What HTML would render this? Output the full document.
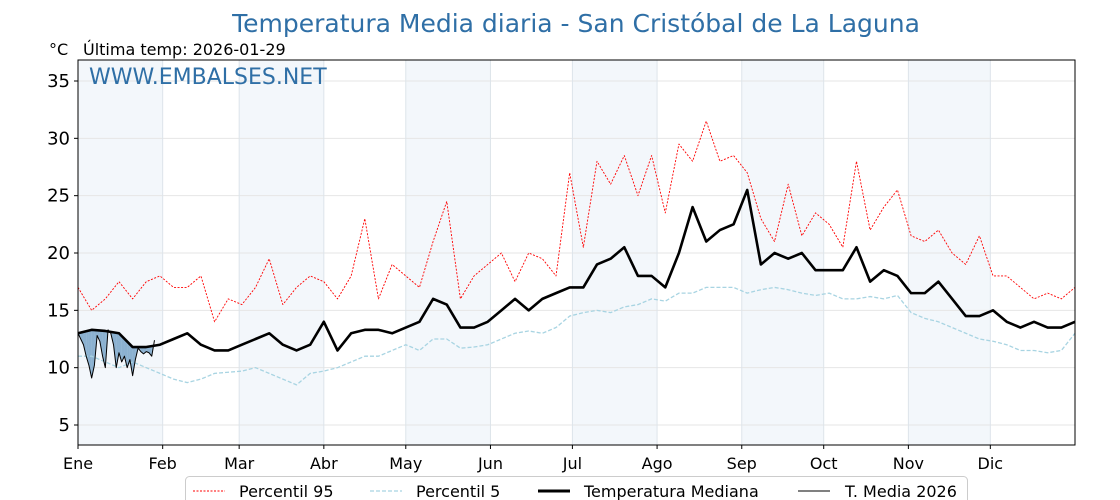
<!DOCTYPE html>
<html><head><meta charset="utf-8"><style>
body{margin:0;background:#fff;}
svg{display:block;font-family:"DejaVu Sans","Liberation Sans",sans-serif;}
</style></head><body>
<svg id="chart" width="1120" height="500" viewBox="0 0 1120 500" xmlns="http://www.w3.org/2000/svg">
<text x="576" y="32" text-anchor="middle" font-size="25" fill="#2f6fa6">Temperatura Media diaria - San Cristóbal de La Laguna</text>
<text x="49" y="55" font-size="16" fill="#000">°C</text>
<text x="83" y="55" font-size="16" fill="#000">Última temp: 2026-01-29</text>
<g id="shade"></g><g id="grid"></g><g id="series"></g><g id="axes"></g>
<text x="89" y="84" font-size="22" fill="#2f6fa6">WWW.EMBALSES.NET</text>
<g id="legend">
<rect x="185.5" y="476.5" width="782" height="30" rx="4" fill="#fff" stroke="#ccc"/>
<line x1="193" y1="491" x2="225" y2="491" stroke="red" stroke-width="1" stroke-dasharray="2,1.5"/>
<text x="239" y="497" font-size="16">Percentil 95</text>
<line x1="370" y1="491" x2="402" y2="491" stroke="#a8d4e2" stroke-width="1.2" stroke-dasharray="4,2"/>
<text x="416" y="497" font-size="16">Percentil 5</text>
<line x1="538" y1="491" x2="570" y2="491" stroke="#000" stroke-width="3"/>
<text x="584" y="497" font-size="16">Temperatura Mediana</text>
<line x1="798" y1="491" x2="830" y2="491" stroke="#000" stroke-width="1"/>
<text x="845" y="497" font-size="16">T. Media 2026</text>
</g>
</svg>
<script>
const sampleDays=[0,5,10,15,20,25,30,35,40,45,50,55,60,65,70,75,80,85,90,95,100,105,110,115,120,125,130,135,140,145,150,155,160,165,170,175,180,185,190,195,200,205,210,215,220,225,230,235,240,245,250,255,260,265,270,275,280,285,290,295,300,305,310,315,320,325,330,335,340,345,350,355,360,365];
const p95=[17,15,16,17.5,16,17.5,18,17,17,18,14,16,15.5,17,19.5,15.5,17,18,17.5,16,18,23,16,19,18,17,21,24.5,16,18,19,20,17.5,20,19.5,18,27,20.5,28,26,28.5,25,28.5,23.5,29.5,28,31.5,28,28.5,27,23,21,26,21.5,23.5,22.5,20.5,28,22,24,25.5,21.5,21,22,20,19,21.5,18,18,17,16,16.5,16,17];
const p5=[11,11,10.5,10,10.5,10,9.5,9,8.7,9,9.5,9.6,9.7,10,9.5,9,8.5,9.5,9.7,10,10.5,11,11,11.5,12,11.5,12.5,12.5,11.7,11.8,12,12.5,13,13.2,13,13.5,14.5,14.8,15,14.8,15.3,15.5,16,15.8,16.5,16.5,17,17,17,16.5,16.8,17,16.8,16.5,16.3,16.5,16,16,16.2,16,16.3,14.8,14.3,14,13.5,13,12.5,12.3,12,11.5,11.5,11.3,11.5,13];
const median=[13,13.3,13.2,13,11.8,11.8,12,12.5,13,12,11.5,11.5,12,12.5,13,12,11.5,12,14,11.5,13,13.3,13.3,13,13.5,14,16,15.5,13.5,13.5,14,15,16,15,16,16.5,17,17,19,19.5,20.5,18,18,17,20,24,21,22,22.5,25.5,19,20,19.5,20,18.5,18.5,18.5,20.5,17.5,18.5,18,16.5,16.5,17.5,16,14.5,14.5,15,14,13.5,14,13.5,13.5,14];
const t2026=[13,12.5,12,11,10.2,9.1,10.2,12.8,12.3,11,10,13.3,13,12,10,11.3,10.5,11,10,10.7,9.3,10.7,11.7,11.4,11.2,11.4,11.3,11,12.4];
const yTicks=[5,10,15,20,25,30,35];
const monthLabels=["Ene","Feb","Mar","Abr","May","Jun","Jul","Ago","Sep","Oct","Nov","Dic"];
const monthStarts=[0,31,59,90,120,151,181,212,243,273,304,334,365];

const X0=78,X1=1075,Y0=60,Y1=445;
const xs=d=>X0+d*(X1-X0)/365;
const ys=v=>425-(v-5)*(344/30);
const NS="http://www.w3.org/2000/svg";
function mk(tag,attrs,parent){const e=document.createElementNS(NS,tag);for(const k in attrs)e.setAttribute(k,attrs[k]);parent.appendChild(e);return e;}
const shade=document.getElementById('shade'),grid=document.getElementById('grid'),ser=document.getElementById('series'),axes=document.getElementById('axes');
for(let m=0;m<12;m+=2){const r=mk('rect',{x:xs(monthStarts[m]),y:Y0,width:xs(monthStarts[m+1])-xs(monthStarts[m]),height:Y1-Y0,fill:'#f3f7fb'},shade);

}
yTicks.forEach(v=>{const l=mk('line',{x1:X0,x2:X1,y1:ys(v),y2:ys(v),stroke:'#e6e6e6','stroke-width':1},grid);


mk('line',{x1:X0-4,x2:X0,y1:ys(v),y2:ys(v),stroke:'#000'},axes);
const t=mk('text',{x:X0-8,y:ys(v)+6,'text-anchor':'end','font-size':18},axes);t.textContent=v;

});
monthLabels.forEach((m,i)=>{const x=xs(monthStarts[i]);
const l=mk('line',{x1:x,x2:x,y1:Y0,y2:Y1,stroke:'#dde4ea','stroke-width':1},grid);


mk('line',{x1:x,x2:x,y1:Y1,y2:Y1+4,stroke:'#000'},axes);
const t=mk('text',{x:x,y:Y1+24,'text-anchor':'middle','font-size':16},axes);t.textContent=m;

});
function interp(d){for(let i=0;i<sampleDays.length-1;i++){if(d<=sampleDays[i+1]){const f=(d-sampleDays[i])/(sampleDays[i+1]-sampleDays[i]);return median[i]+f*(median[i+1]-median[i]);}}return median[median.length-1];}
for(let d=0;d<t2026.length-1;d++){
 const a0=t2026[d]-interp(d),a1=t2026[d+1]-interp(d+1);
 const seg=(s,e)=>{const pts=[];const f=(dd)=>{const k=dd-d;return t2026[d]+k*(t2026[d+1]-t2026[d]);};
  pts.push([xs(s),ys(f(s))],[xs(e),ys(f(e))],[xs(e),ys(interp(e))],[xs(s),ys(interp(s))]);
  const mid=(s+e)/2;const col=f(mid)<interp(mid)?'rgba(70,130,180,0.6)':'rgba(240,128,128,0.6)';
  const p=mk('polygon',{points:pts.map(q=>q.join(',')).join(' '),fill:col},ser);
  
  };
 if(a0*a1<0){const c=d+a0/(a0-a1);seg(d,c);seg(c,d+1);}else seg(d,d+1);
}
function line(vals,days,attrs,name){const p=mk('polyline',Object.assign({points:vals.map((v,i)=>xs(days[i])+','+ys(v)).join(' '),fill:'none','stroke-linejoin':'round'},attrs),ser);

}
line(p95,sampleDays,{stroke:'red','stroke-width':0.9,'stroke-dasharray':'2,1.5'},'p95-line');
line(p5,sampleDays,{stroke:'#a8d4e2','stroke-width':1.3,'stroke-dasharray':'4,2'},'p5-line');
line(median,sampleDays,{stroke:'#000','stroke-width':2.6},'median-line');
line(t2026,t2026.map((v,i)=>i),{stroke:'#000','stroke-width':1},'t2026-line');
const fr=mk('rect',{x:X0,y:Y0,width:X1-X0,height:Y1-Y0,fill:'none',stroke:'#000','stroke-width':1},axes);


</script>
</body></html>
